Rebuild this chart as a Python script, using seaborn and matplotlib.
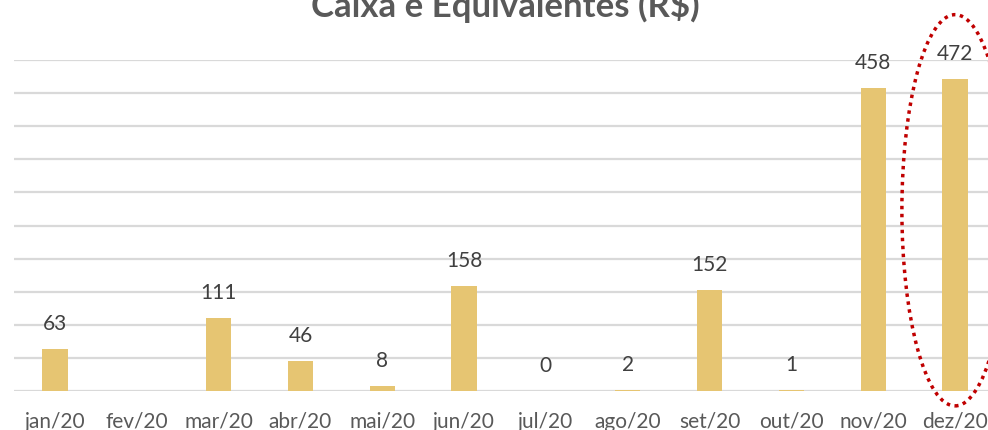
import numpy as np
import pandas as pd
import matplotlib
matplotlib.use("Agg")
import matplotlib.pyplot as plt
import seaborn as sns
from matplotlib.patches import Ellipse

# dados (R$) - fev/20 sem valor
meses = ['jan/20', 'fev/20', 'mar/20', 'abr/20', 'mai/20', 'jun/20',
         'jul/20', 'ago/20', 'set/20', 'out/20', 'nov/20', 'dez/20']
caixa = [63, np.nan, 111, 46, 8, 158, 0, 2, 152, 1, 458, 472]
titulo = 'Caixa e Equivalentes (R$)'

BAR_COLOR = '#E6C572'
GRID_COLOR = '#D9D9D9'
TEXT_COLOR = '#595959'
LABEL_COLOR = '#404040'

sns.set_theme(style='white')
plt.rcParams['font.family'] = ['Lato', 'DejaVu Sans']

df = pd.DataFrame({'mes': meses, 'valor': caixa})

fig = plt.figure(figsize=(9.88, 4.30), dpi=100)
ax = fig.add_axes([14 / 988, 39 / 430, 982 / 988, 331 / 430])

sns.barplot(data=df, x='mes', y='valor', color=BAR_COLOR, width=0.31,
            saturation=1, linewidth=0, ax=ax, zorder=3)

ax.set_ylim(0, 500)
ax.set_xlim(-0.5, len(meses) - 0.5)
ax.set_yticks(np.arange(0, 501, 50))
ax.yaxis.grid(True, color=GRID_COLOR, linewidth=1.6, zorder=0)
ax.set_axisbelow(True)
ax.tick_params(axis='y', left=False, labelleft=False)
ax.tick_params(axis='x', bottom=False, labelsize=15, labelcolor=TEXT_COLOR, pad=9)
ax.set_xlabel('')
ax.set_ylabel('')
for s in ax.spines.values():
    s.set_visible(False)

# rótulos de dados
for i, v in enumerate(caixa):
    if np.isnan(v):
        continue
    ax.annotate(f'{v:.0f}', (i, v), xytext=(0, 18), textcoords='offset points',
                ha='center', va='center', fontsize=15, color=LABEL_COLOR)

# destaque dez/20
ax.add_patch(Ellipse((11, 273), width=1.3, height=591, fill=False,
                     edgecolor='#C00000', linestyle=(0, (1, 1.3)),
                     linewidth=2.5, clip_on=False, zorder=5))

fig.text(505 / 988, 1 - 17 / 430, titulo, ha='center', va='baseline',
         fontsize=25, fontweight='bold', color=TEXT_COLOR)

fig.savefig('out.png', dpi=100)
